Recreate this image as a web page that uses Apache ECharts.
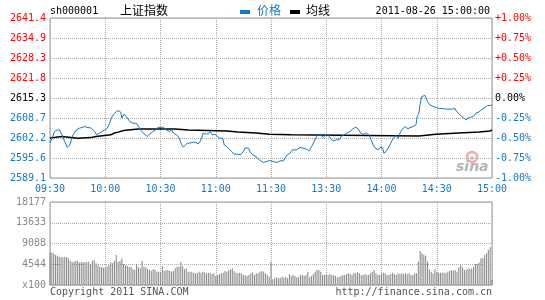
<!DOCTYPE html>
<html>
<head>
<meta charset="utf-8">
<script src="https://cdn.jsdelivr.net/npm/echarts@6/dist/echarts.min.js"></script>
<style>
html,body{margin:0;padding:0;background:#fff;}
#c{width:545px;height:300px;}
</style>
</head>
<body>
<div id="c"></div>
<script>
// ---- data ----
const priceTicks = ['2589.1','2595.6','2602.2','2608.7','2615.3','2621.8','2628.3','2634.9','2641.4'];
const pctTicks = ['-1.00%','-0.75%','-0.50%','-0.25%','0.00%','+0.25%','+0.50%','+0.75%','+1.00%'];
const volTicks = ['x100','4544','9088','13633','18177'];
const timeTicks = ['09:30','10:00','10:30','11:00','11:30','13:30','14:00','14:30','15:00'];
const volMax = 18177;

// minute offsets (from 09:30, lunch removed) and prices
const priceT = [0,1,2.5,3.8,5.2,6.5,8,9.4,10.7,12.5,14.3,16.1,18.8,19.7,20.6,21.5,22.4,24.3,25.2,26.1,27.9,29.7,31.1,32.4,33.3,34.6,36,37.3,38.4,39.1,40.2,40.9,42,43.3,45.1,46.9,48.1,49.6,51.7,52.8,54.1,55.9,57.2,58.6,59.5,61.3,
63.3,64.8,66.1,67,67.9,69.1,70.2,71.5,72.4,73.3,74.5,76,77.8,79.3,80.5,81.4,82.3,83.2,84.1,85,86,87.2,88.1,89.6,90.8,92.3,93,93.8,94.6,95.9,97.3,98.6,99.9,101.7,103.5,104.9,105.9,107.7,108.6,110,111.3,112.5,113.6,114.3,115.8,117.6,119.4,
121.2,123.4,124.9,126.7,127.6,128.8,130.3,131.6,132.5,134,135.7,136.6,137.9,139.4,140.8,142.1,143,143.9,144.8,146,147.1,148.4,150.2,151.3,152.4,153.8,155.6,157,158,159.3,161.1,162.3,163.8,165,166.1,167.4,168.7,170.1,171.9,173.4,174.3,175.5,176.6,178.2,179.5,
180.6,181.3,182.4,183.7,185,186.4,187.8,189.1,190.4,191.8,193.1,194.2,195.4,197.2,198.7,199.4,200.3,200.9,201.8,202.3,203.6,204.2,205,206.3,208.1,209.9,211.6,213.2,213.9,216,218.1,219.9,220.8,222.2,223.5,224.8,225.9,227.1,228.4,229.8,231.3,232.6,234.4,236.2,237.5,239.4,240];
const priceV = [2600.5,2602.0,2604.3,2604.8,2604.8,2603.2,2601.0,2599.1,2599.9,2603.2,2604.8,2605.4,2605.9,2606.2,2605.6,2606.1,2605.4,2604.3,2603.2,2603.4,2604.1,2604.8,2605.4,2607.0,2608.7,2610.0,2610.8,2611.1,2610.6,2608.7,2610.0,2610.3,2608.7,2607.6,2607.0,2607.0,2605.9,2604.5,2603.2,2602.7,2603.4,2604.3,2604.8,2605.6,2605.4,2605.7,
2604.8,2604.3,2604.8,2603.8,2603.2,2603.0,2602.1,2599.9,2599.2,2599.5,2600.5,2600.5,2600.8,2600.7,2600.2,2601.0,2602.1,2603.8,2604.1,2603.4,2603.4,2604.1,2603.2,2603.4,2602.7,2602.1,2602.3,2602.1,2599.9,2599.4,2598.6,2597.7,2596.9,2596.9,2596.7,2597.7,2598.9,2598.9,2597.7,2596.7,2596.3,2595.8,2595.0,2595.5,2594.2,2594.5,2594.8,
2594.5,2594.2,2594.7,2594.7,2595.6,2596.7,2597.2,2598.3,2598.0,2598.3,2599.1,2598.8,2598.8,2598.5,2598.0,2599.4,2600.5,2601.6,2602.7,2603.4,2603.0,2602.3,2603.4,2603.0,2601.9,2601.2,2601.6,2601.6,2602.7,2603.0,2603.8,2604.1,2604.8,2605.4,2605.7,2605.1,2603.8,2603.4,2603.8,2603.0,2601.6,2599.9,2598.9,2598.3,2599.2,
2598.9,2597.2,2597.7,2598.9,2600.5,2602.1,2603.0,2602.1,2604.3,2605.4,2605.9,2605.1,2605.6,2605.9,2606.5,2609.2,2610.3,2613.0,2615.7,2616.3,2616.1,2615.7,2614.1,2613.0,2612.5,2612.1,2611.8,2611.8,2611.4,2611.6,2611.6,2611.8,2610.8,2610.0,2609.2,2608.7,2608.1,2608.7,2609.0,2609.2,2610.3,2610.6,2611.4,2612.1,2612.8,2612.8,2613.0];

const avgT = [0,3,4,6.5,7.5,15,16,22,23,25,26,33,35,37,40,42.5,48,61,67.9,68.5,75,76,96,97,102,103,112,113,119,120,131,132,200,201,203,204,209.5,210,222,223,233,234,239,240];
const avgV = [2602.2,2602.4,2602.7,2602.7,2602.2,2602.1,2602.3,2602.3,2602.7,2602.7,2603.1,2603.2,2603.8,2604.1,2604.6,2604.8,2605.1,2605.1,2605.1,2604.8,2604.8,2604.5,2604.5,2604.1,2604.1,2603.8,2603.8,2603.4,2603.4,2603.2,2603.2,2602.9,2602.8,2603.0,2603.0,2603.4,2603.4,2603.8,2603.8,2604.1,2604.1,2604.5,2604.5,2604.8];

// volume per minute (x100), minute 0..240
const volume = [7100,7081,6935,6570,6424,6205,6059,6059,6205,6059,5840,5329,4964,5110,5256,5256,4891,4964,4964,4964,4964,5110,4599,5329,5475,4745,4380,4015,3869,3796,3869,4015,4380,4964,4745,5256,6570,5110,5256,5840,4599,4380,4161,4015,3869,3504,3285,4599,3869,3650,5256,4015,3869,3504,3285,3139,3431,3285,2920,2920,2774,4161,3066,3285,3285,3066,2920,3066,3650,4015,4015,4964,4088,3431,3650,2920,2774,2920,2701,2555,2701,2920,2701,2920,2774,2555,2701,2555,2409,2555,1971,2190,2409,2555,2701,3066,2920,3285,3431,3650,3066,2701,2555,2701,2555,2190,2190,1971,2190,2555,2774,2190,2555,2555,2920,3066,2920,2555,2190,1825,5110,
1241,1460,1679,1460,1606,1825,1606,1825,1460,2409,1971,2190,1971,1679,1679,2190,2190,2044,2190,2920,1679,1971,2409,2920,3285,3285,2920,2190,2190,2336,2190,2336,2190,2190,1971,1679,1752,1971,2190,2190,2409,2555,2409,2190,2701,2555,2774,2555,2190,2190,2409,2190,2190,2555,2920,3358,2555,2190,2190,2555,2701,2555,2190,2190,2409,2701,2409,2190,2555,2336,2555,2409,2555,2336,2555,2190,2190,2555,2555,5110,7446,6935,6570,6351,5110,3431,2920,2555,3431,2920,2701,2701,2701,2701,2701,2920,3066,3285,3139,3285,2920,3869,4380,3869,3285,3285,3650,3504,3650,4015,4599,4599,4891,5840,5840,6570,6935,7665,8249,1095];

// ---- chart ----
const BLUE = '#1478c8';
const MONO = '"DejaVu Sans Mono", "Liberation Mono", monospace';
const CJK = '"Noto Sans CJK SC", sans-serif';
const pMin = parseFloat(priceTicks[0]);
const pMax = parseFloat(priceTicks[priceTicks.length - 1]);

const tickColor = v => v > 4 ? '#ff0000' : (v === 4 ? '#000000' : BLUE);
const dotted = {show: true, lineStyle: {type: 'dotted', color: '#aaaaaa', width: 1}};

const chart = echarts.init(document.getElementById('c'), null, {renderer: 'canvas'});
chart.setOption({
  animation: false,
  backgroundColor: '#ffffff',
  grid: [
    {left: 50, top: 18, width: 442, height: 160, show: true, borderColor: '#999999', borderWidth: 1, backgroundColor: 'transparent'},
    {left: 50, top: 202, width: 442, height: 83, show: true, borderColor: '#999999', borderWidth: 1, backgroundColor: 'transparent'}
  ],
  xAxis: [
    {gridIndex: 0, type: 'value', min: 0, max: 240, interval: 30,
     axisLine: {show: false}, axisTick: {show: false}, splitLine: dotted,
     axisLabel: {formatter: v => timeTicks[Math.round(v / 30)], color: BLUE, fontFamily: MONO, fontSize: 10, margin: 6}},
    {gridIndex: 1, type: 'value', min: 0, max: 240, interval: 30,
     axisLine: {show: false}, axisTick: {show: false}, splitLine: dotted, axisLabel: {show: false}}
  ],
  yAxis: [
    {gridIndex: 0, type: 'value', min: 0, max: 8, interval: 1, position: 'left',
     axisLine: {show: false}, axisTick: {show: false}, splitLine: dotted,
     axisLabel: {formatter: v => priceTicks[Math.round(v)], color: v => tickColor(Math.round(v)), fontFamily: MONO, fontSize: 10, margin: 4}},
    {gridIndex: 0, type: 'value', min: 0, max: 8, interval: 1, position: 'right',
     axisLine: {show: false}, axisTick: {show: false}, splitLine: {show: false},
     axisLabel: {formatter: v => pctTicks[Math.round(v)], color: v => tickColor(Math.round(v)), fontFamily: MONO, fontSize: 10, margin: 3}},
    {gridIndex: 0, type: 'value', min: pMin, max: pMax, show: false, splitLine: {show: false}},
    {gridIndex: 1, type: 'value', min: 0, max: volMax, interval: volMax / 4, position: 'left',
     axisLine: {show: false}, axisTick: {show: false}, splitLine: dotted,
     axisLabel: {formatter: v => volTicks[Math.round(v / (volMax / 4))], color: '#888888', fontFamily: MONO, fontSize: 10, margin: 4}}
  ],
  series: [
    {type: 'bar', xAxisIndex: 1, yAxisIndex: 3, barWidth: 1.1, barMinHeight: 0,
     itemStyle: {color: '#8e8e8e'}, silent: true,
     data: volume.map((v, i) => [i, v])},
    {type: 'line', xAxisIndex: 0, yAxisIndex: 2, showSymbol: false, silent: true,
     lineStyle: {color: '#000000', width: 1.5}, itemStyle: {color: '#000000'},
     data: avgT.map((t, i) => [t, avgV[i]])},
    {type: 'line', xAxisIndex: 0, yAxisIndex: 2, showSymbol: false, silent: true,
     lineStyle: {color: BLUE, width: 1}, itemStyle: {color: BLUE},
     data: priceT.map((t, i) => [t, priceV[i]])}
  ],
  graphic: [
    {type: 'text', left: 50, top: 6, style: {text: 'sh000001', fill: '#000', font: '10px ' + MONO}},
    {type: 'text', left: 120, top: 4, style: {text: '上证指数', fill: '#000', font: '12px ' + CJK}},
    {type: 'rect', shape: {x: 240, y: 10, width: 10, height: 4}, style: {fill: BLUE}},
    {type: 'text', left: 257, top: 4, style: {text: '价格', fill: BLUE, font: '12px ' + CJK}},
    {type: 'rect', shape: {x: 290, y: 10, width: 10, height: 4}, style: {fill: '#000'}},
    {type: 'text', left: 306, top: 4, style: {text: '均线', fill: '#000', font: '12px ' + CJK}},
    {type: 'text', right: 55, top: 6, style: {text: '2011-08-26 15:00:00', fill: '#000', font: '10px ' + MONO}},
    {type: 'text', left: 50, top: 287, style: {text: 'Copyright 2011 SINA.COM', fill: '#555', font: '10px ' + MONO}},
    {type: 'text', right: 53, top: 287, style: {text: 'http://finance.sina.com.cn', fill: '#555', font: '10px ' + MONO}},
    {type: 'circle', shape: {cx: 472, cy: 157, r: 5}, style: {fill: 'none', stroke: '#f2a8a8', lineWidth: 2.5}},
    {type: 'circle', shape: {cx: 472, cy: 158, r: 1.8}, style: {fill: '#bbbbbb'}},
    {type: 'text', left: 456, top: 160, style: {text: 'sina', fill: '#b5b5b5', font: 'italic bold 14px "DejaVu Sans", sans-serif'}}
  ]
});
</script>
</body>
</html>
